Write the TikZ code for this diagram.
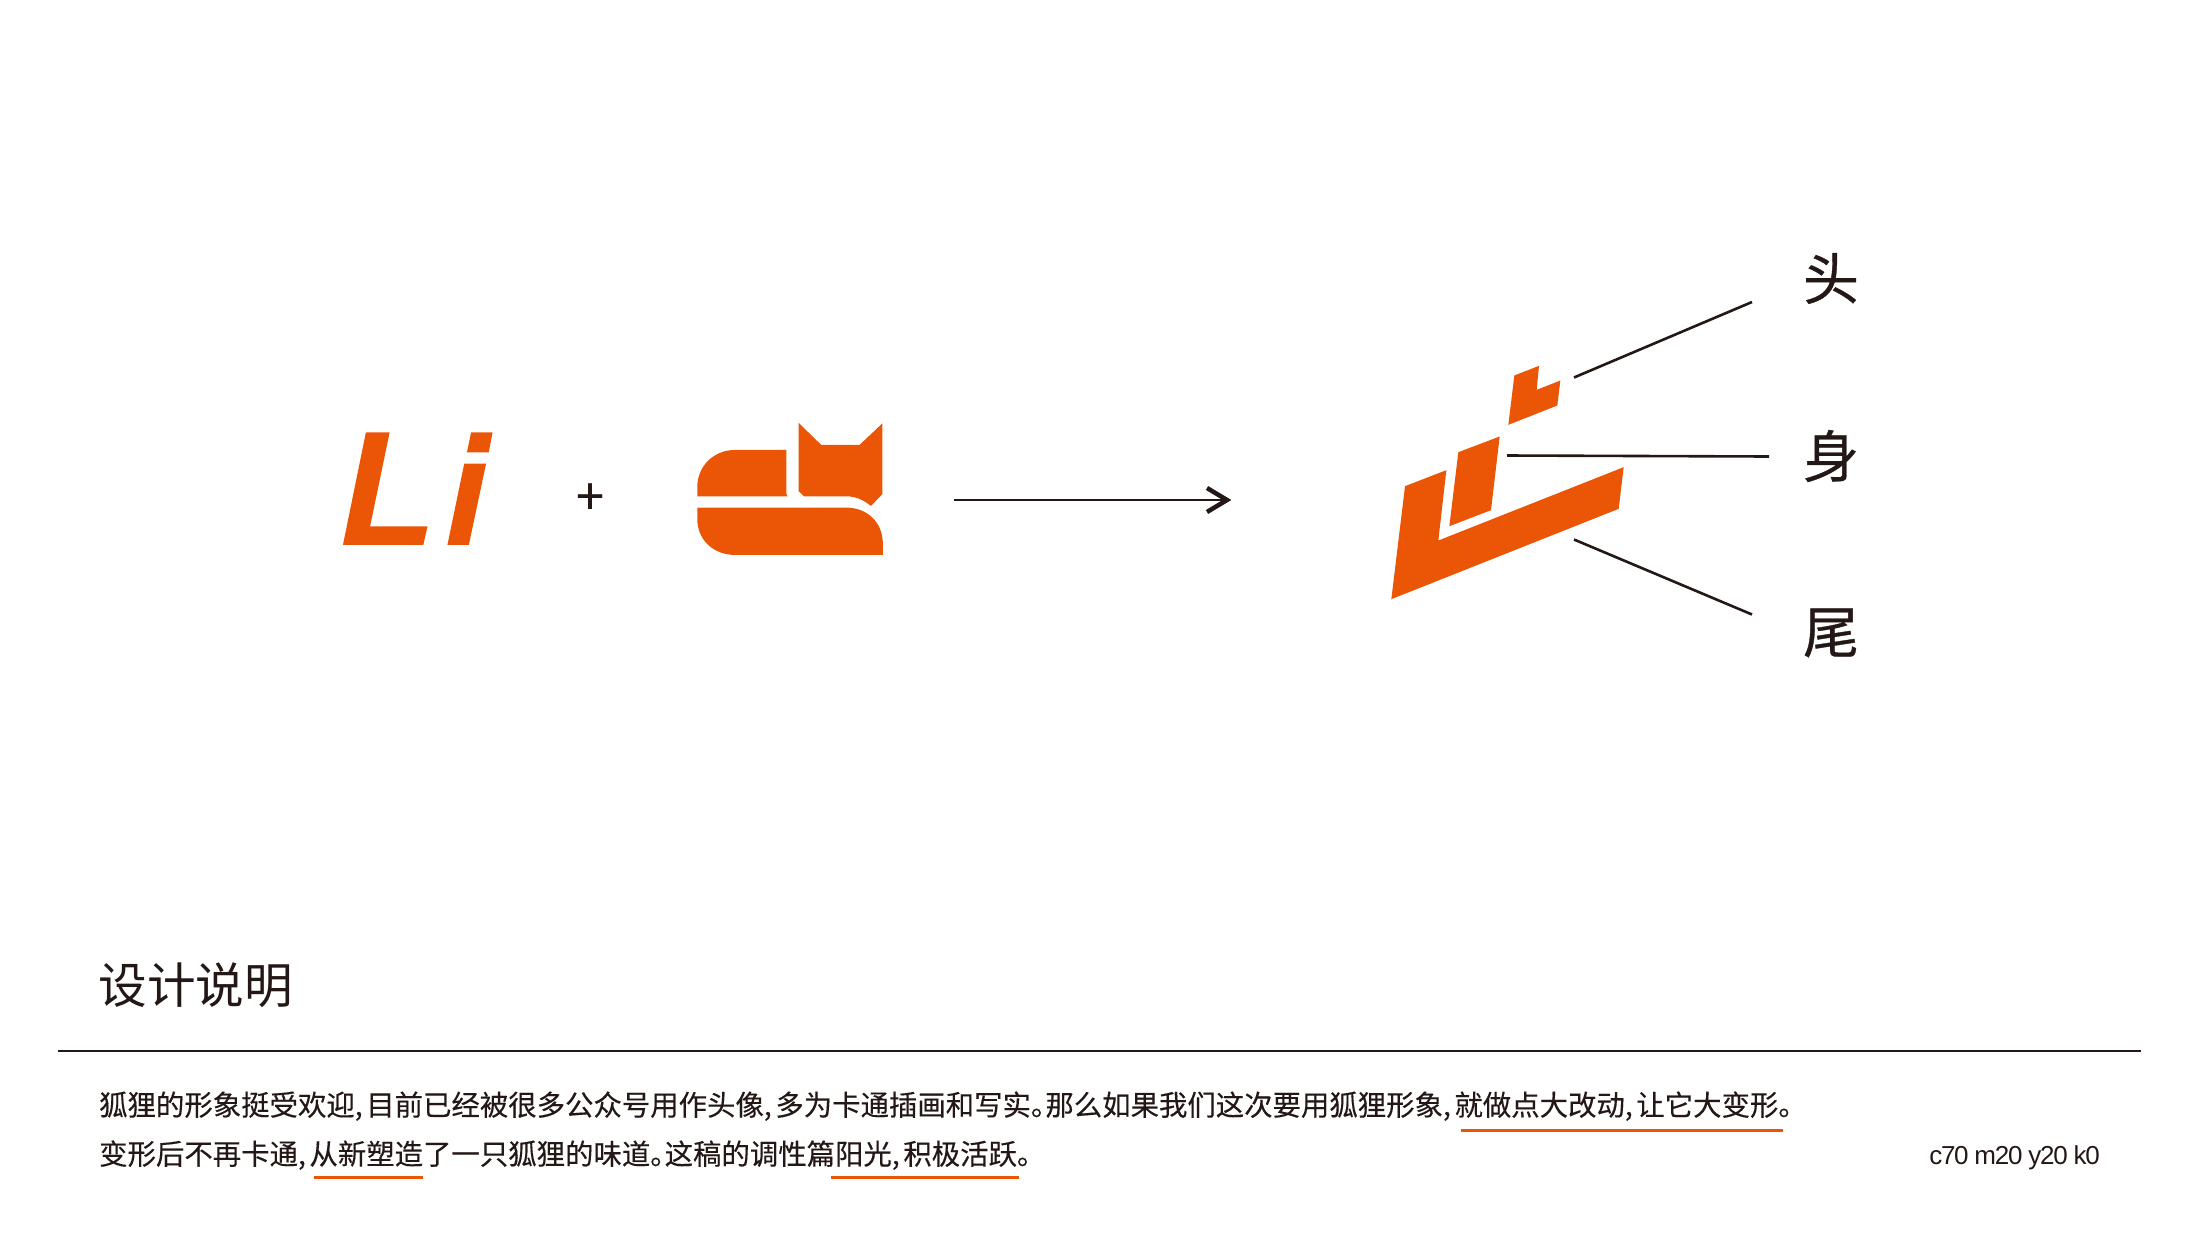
\documentclass[tikz,border=0pt]{standalone}
\usepackage{fontspec}
\setmainfont{Noto Sans CJK SC}
\newfontfamily\labelcjk[FakeBold=0.6]{Noto Sans CJK SC}
\newfontfamily\bodycjk[FakeBold=0.25]{Noto Sans CJK SC}
\newfontfamily\latinfont[LetterSpace=-5]{Liberation Sans}
\definecolor{foxorange}{HTML}{EB5606}
\definecolor{inkblack}{HTML}{231815}
\newcommand{\cmm}{,\hspace{3.6pt}}
\newcommand{\stp}{。\hspace{-14pt}}
\tikzset{
  foxfill/.style={fill=foxorange,draw=none},
  leader/.style={draw=inkblack,line width=2.6pt},
  underl/.style={draw=foxorange,line width=3pt},
  labelzh/.style={font=\labelcjk\fontsize{56}{56}\selectfont,text=inkblack,inner sep=0pt},
  bodyline/.style={font=\bodycjk\fontsize{28.4}{28.4}\selectfont,text=inkblack,inner sep=0pt,anchor=base west},
}
\begin{document}
\begin{tikzpicture}[x=1pt,y=-1pt]
\useasboundingbox (0,0) rectangle (2200,1237);
\fill[white] (0,0) rectangle (2200,1237);
% Li + cat
\begin{scope}[shift={(320,400.6)},x=0.38265pt,y=-0.33333pt]
\fill[foxfill] (120,95)--(182,95)--(131,377)--(281,377)--(270,433)--(60,433)--cycle;
\fill[foxfill] (395,95)--(451,95)--(441,155)--(384,155)--cycle;
\fill[foxfill] (377,189)--(434,189)--(389,433)--(333,433)--cycle;
\fill[foxfill] (986,287)--(986,260) .. controls (986,195) and (1030,148) .. (1085,148)--(1219,148)--(1219,280)--(1222,287)--cycle;
\fill[foxfill] (986,321)--(1375,321) .. controls (1430,321) and (1471,365) .. (1471,430)--(1471,463)--(1085,463) .. controls (1030,463) and (986,420) .. (986,355)--cycle;
\fill[foxfill] (1251,67)--(1310,133)--(1410,133)--(1470,68)--(1470,280)--(1440,316) .. controls (1420,298) and (1400,287) .. (1375,287)--(1265,287)--(1251,272)--cycle;
\end{scope}
\node[inner sep=0pt,font=\labelcjk\fontsize{50}{50}\selectfont,text=inkblack] (plus) at (590,499) {+};
% arrow
\coordinate (arrowA) at (954,500);
\coordinate (arrowB) at (1227,500);
\draw[leader] (arrowA)--(arrowB);
\draw[leader,line width=4.5pt,line join=miter] (1207,488)--(arrowB)--(1207,512);
% fox mark
\begin{scope}[shift={(1370,340.5)},x=0.33333pt,y=-0.33333pt]
\fill[foxfill] (433,105)--(507,76)--(500,148)--(571,120)--(562,195)--(415,253)--cycle;
\fill[foxfill] (265,335)--(389,288)--(363,509)--(238,557)--cycle;
\fill[foxfill] (105,437)--(229,389)--(205,600)--(761,380)--(746,505)--(64,776)--cycle;
\end{scope}
% labels
\node[labelzh] (head) at (1831,278.5) {头};
\node[labelzh] (body) at (1831,456) {身};
\node[labelzh] (tail) at (1831,633) {尾};
\coordinate (h0) at (1574,377.5); \coordinate (h1) at (1752,302);
\coordinate (b0) at (1507,455.5); \coordinate (b1) at (1769,456.5);
\coordinate (t0) at (1574,539.5); \coordinate (t1) at (1752,614.5);
\draw[leader] (h0)--(h1);
\draw[leader] (b0)--(b1);
\draw[leader] (t0)--(t1);
% bottom
\node[inner sep=0pt,anchor=west,font=\fontsize{48.6}{48.6}\selectfont,text=inkblack] (title) at (98.5,985) {设计说明};
\coordinate (ruleL) at (58,1050.5); \coordinate (ruleR) at (2141,1050.5);
\draw[draw=inkblack,line width=2pt] (ruleL)--(ruleR);
\node[bodyline] (line1) at (99,1115.5) {狐狸的形象挺受欢迎\cmm 目前已经被很多公众号用作头像\cmm 多为卡通插画和写实\stp 那么如果我们这次要用狐狸形象\cmm 就做点大改动\cmm 让它大变形。};
\node[bodyline] (line2) at (99,1164.5) {变形后不再卡通\cmm 从新塑造了一只狐狸的味道\stp 这稿的调性篇阳光\cmm 积极活跃。};
\coordinate (u1a) at (1461,1130); \coordinate (u1b) at (1783,1130);
\coordinate (u2a) at (314,1177.5); \coordinate (u2b) at (423,1177.5);
\coordinate (u3a) at (831,1177.5); \coordinate (u3b) at (1019,1177.5);
\draw[underl] (u1a)--(u1b);
\draw[underl] (u2a)--(u2b);
\draw[underl] (u3a)--(u3b);
\node[inner sep=0pt,anchor=base east,font=\latinfont\fontsize{26}{26}\selectfont,text=inkblack] (cmyk) at (2100,1164) {c70 m20 y20 k0};
\end{tikzpicture}
\end{document}
